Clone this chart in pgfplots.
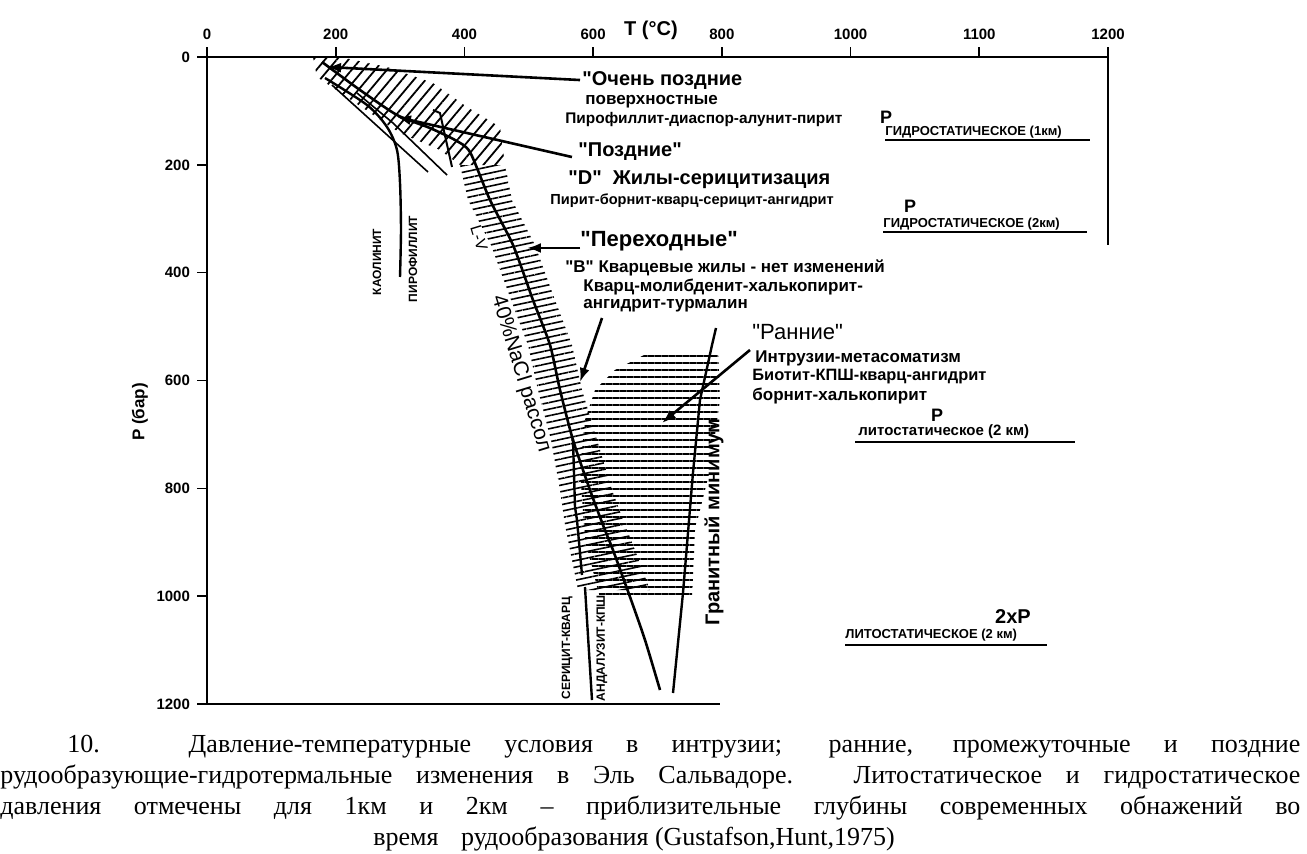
\documentclass[border=0pt]{standalone}
\usepackage{fontspec}
\setmainfont{Liberation Sans}[Ligatures=TeXOff]
\newfontfamily\capfont{Liberation Serif}
\usepackage{pgfplots}
\pgfplotsset{compat=1.18}
\usetikzlibrary{patterns.meta,arrows.meta}
\newcommand\fs[1]{\fontsize{#1}{#1}\selectfont}
\newcommand\q{"}
\begin{document}
\begin{tikzpicture}
\path[use as bounding box] (0,0) rectangle (653.5pt,426.5pt);
\begin{axis}[
  at={(103.5pt,398pt)}, anchor=north west,
  scale only axis, width=450.5pt, height=323.5pt,
  xmin=0, xmax=1400, ymin=0, ymax=1200,
  y dir=reverse,
  axis x line*=top, axis y line*=left,
  axis line style={-, line width=1.2pt},
  xtick={0,200,...,1400}, xticklabels={0,200,400,600,800,1000,1100,1200},
  ytick={0,200,...,1200},
  tick align=outside, major tick length=5pt,
  tick style={line width=0.8pt, black},
  ticklabel style={font=\bfseries\fs{7.5}},
  /pgf/number format/assume math mode=true,
  /pgf/number format/1000 sep={},
  clip=false,
]
% hatched zones
\addplot[draw=none, pattern={Lines[angle=50,distance=4.5pt,line width=0.9pt]}] coordinates {
 (164.7,0) (214.4,1.9) (279.7,18.5) (351.2,48.2) (404.0,92.7) (455.3,129.8) (463.0,200.3)
 (393.1,200.3) (362.0,172.5) (299.9,141.0) (170.9,37.1)} -- cycle;
\addplot[draw=none, pattern={Lines[angle=12,distance=3.2pt,line width=0.8pt]}] coordinates {
 (463.0,200.3) (473.9,265.2) (509.6,348.7) (540.7,450.7) (567.1,534.2) (582.7,617.6) (606.0,710.4)
 (629.3,803.1) (649.5,868.0) (665.0,914.4) (688.3,988.6)
 (576.5,988.6) (564.0,914.4) (556.3,868.0) (548.5,803.1) (534.5,710.4) (514.3,617.6)
 (498.8,534.2) (472.4,450.7) (441.3,348.7) (405.5,265.2) (393.1,200.3)} -- cycle;
\addplot[draw=none, pattern={Lines[angle=0,distance=3.5pt,line width=0.8pt]}] coordinates {
 (688.3,547.1) (794.0,543.4) (797.1,636.2) (781.6,766.0) (758.3,877.3) (753.6,1003.4)
 (610.6,1003.4) (587.3,895.8) (579.6,766.0) (587.3,673.3) (602.9,617.6) (633.9,580.5)} -- cycle;
% 40% NaCl curve
\addplot[line width=1.3pt, smooth, tension=0.4] coordinates {
 (178.7,9.3) (237.7,61.2) (295.2,107.6) (346.5,131.7) (385.3,153.9) (408.6,176.2) (439.7,265.2)
 (475.5,348.7) (506.5,450.7) (533.0,534.2) (548.5,617.6) (568.7,710.4) (595.1,803.1)
 (615.3,868.0) (630.8,914.4) (657.3,1001.5) (680.6,1081.3) (703.9,1174.0)};
% kaolinite / pyrophyllite boundary
\addplot[line width=1.2pt, smooth] coordinates {
 (183.3,38.9) (248.6,89.0) (279.7,129.8) (295.2,172.5) (299.9,233.7) (301.4,320.9) (299.9,408.0)};
% thin lines in late zone
\addplot[line width=0.8pt] coordinates {(194.2,51.9) (343.4,213.3)};
\addplot[line width=0.8pt] coordinates {(233.1,66.8) (289.0,122.4) (372.9,218.9)};
\addplot[line width=1pt] coordinates {(351.2,98.3) (362.0,103.9) (380.7,204.0)};
% sericite-quartz / andalusite-KSP boundary
\addplot[line width=1.2pt] coordinates {(566.0,710.4) (568.7,710.4) (571.8,834.6) (574.9,858.7) (582.7,960.7)};
\addplot[line width=1.2pt] coordinates {(587.3,983.0) (598.2,1192.6)};
% granite minimum
\addplot[line width=1.2pt] coordinates {
 (790.9,502.6) (784.7,534.2) (766.0,636.2) (755.1,771.6) (739.6,994.1) (724.1,1179.6)};
% partial frame lines
\addplot[line width=1.2pt] coordinates {(1400,0) (1400,349)};
\addplot[line width=1pt] coordinates {(0,1200) (797,1200)};
% arrows
\addplot[line width=1.3pt, -{Latex[length=7pt,width=5pt]}] coordinates {(579.6,42.7) (186.5,18.5)};
\addplot[line width=1.3pt, -{Latex[length=7pt,width=5pt]}] coordinates {(567.1,185.5) (295.2,111.3)};
\addplot[line width=1.3pt, -{Latex[length=7pt,width=5pt]}] coordinates {(579.6,354.2) (497.2,354.2)};
\addplot[line width=1.3pt, -{Latex[length=7pt,width=5pt]}] coordinates {(613.8,484.1) (579.6,602.8)};
\addplot[line width=1.3pt, -{Latex[length=7pt,width=5pt]}] coordinates {(843.7,543.4) (707.0,678.8)};
\end{axis}
\begin{scope}[x=0.5pt,y=-0.5pt,yshift=426.5pt]
% axis titles
\node[font=\bfseries\fs{10}] at (651,30) {T (°C)};
\node[font=\bfseries\fs{8.5}, rotate=90] at (140,412) {P (бар)};
% annotations
\node[anchor=west, inner sep=0, font=\bfseries\fs{10}] at (582,81) {\q Очень поздние};
\node[anchor=west, inner sep=0, font=\bfseries\fs{8.5}] at (585,102) {поверхностные};
\node[anchor=west, inner sep=0, font=\bfseries\fs{7.7}] at (565,120) {Пирофиллит-диаспор-алунит-пирит};
\node[anchor=west, inner sep=0, font=\bfseries\fs{10}] at (578,152) {\q Поздние\q};
\node[anchor=west, inner sep=0, font=\bfseries\fs{10}] at (568,180) {\q D\q\ \ Жилы-серицитизация};
\node[anchor=west, inner sep=0, font=\bfseries\fs{7.3}] at (550,201) {Пирит-борнит-кварц-серицит-ангидрит};
\node[anchor=west, inner sep=0, font=\bfseries\fs{11}] at (580,241) {\q Переходные\q};
\node[anchor=west, inner sep=0, font=\bfseries\fs{8.5}] at (565,268) {\q B\q\ Кварцевые жилы - нет изменений};
\node[anchor=west, inner sep=0, font=\bfseries\fs{8.5}] at (583,287) {Кварц-молибденит-халькопирит-};
\node[anchor=west, inner sep=0, font=\bfseries\fs{8.5}] at (583,306) {ангидрит-турмалин};
\node[anchor=west, inner sep=0, font=\fs{11}] at (752,332) {\q Ранние\q};
\node[anchor=west, inner sep=0, font=\bfseries\fs{8.5}] at (755,358) {Интрузии-метасоматизм};
\node[anchor=west, inner sep=0, font=\bfseries\fs{8.2}] at (752,377) {Биотит-КПШ-кварц-ангидрит};
\node[anchor=west, inner sep=0, font=\bfseries\fs{8.5}] at (752,396) {борнит-халькопирит};
% pressure labels
\node[font=\bfseries\fs{9}] at (886,117) {P};
\node[anchor=west, inner sep=0, font=\bfseries\fs{6.5}] at (885,132) {ГИДРОСТАТИЧЕСКОЕ (1км)};
\draw[line width=1pt] (885,140) -- (1090,140);
\node[font=\bfseries\fs{9}] at (910,206) {P};
\node[anchor=west, inner sep=0, font=\bfseries\fs{6.5}] at (883,224) {ГИДРОСТАТИЧЕСКОЕ (2км)};
\draw[line width=1pt] (883,232) -- (1087,232);
\node[font=\bfseries\fs{9}] at (937,415) {P};
\node[anchor=west, inner sep=0, font=\bfseries\fs{7.5}] at (858,432) {литостатическое (2 км)};
\draw[line width=1.4pt] (855,442) -- (1075,442);
\node[font=\bfseries\fs{10}] at (1013,617) {2xP};
\node[anchor=west, inner sep=0, font=\bfseries\fs{6.5}] at (845,635) {ЛИТОСТАТИЧЕСКОЕ (2 км)};
\draw[line width=1pt] (845,645) -- (1047,645);
% rotated labels
\node[rotate=90, font=\bfseries\fs{6}] at (377,262) {КАОЛИНИТ};
\node[rotate=90, font=\bfseries\fs{6}] at (413,259) {ПИРОФИЛЛИТ};
\node[rotate=90, font=\bfseries\fs{6}] at (567,648) {СЕРИЦИТ-КВАРЦ};
\node[rotate=90, font=\bfseries\fs{6}] at (602,648) {АНДАЛУЗИТ-КПШ};
\node[rotate=90, font=\bfseries\fs{10}] at (714,522) {Гранитный минимум};
\node[rotate=-73, font=\fs{10.5}, inner sep=0] at (521,374) {40\%NaCl рассол};
\node[rotate=-73, font=\fs{8}, inner sep=0] at (479,238) {L-V};
% caption
\node[anchor=base west, inner sep=0, font=\capfont\fs{13}] at (67,752) {\makebox[616.5pt][s]{10. Давление-температурные условия в интрузии; ранние, промежуточные и поздние}};
\node[anchor=base west, inner sep=0, font=\capfont\fs{13}] at (0,783) {\makebox[650pt][s]{рудообразующие-гидротермальные изменения в Эль Сальвадоре. Литостатическое и гидростатическое}};
\node[anchor=base west, inner sep=0, font=\capfont\fs{13}] at (0,814) {\makebox[650pt][s]{давления отмечены для 1км и 2км – приблизительные глубины современных обнажений во}};
\node[anchor=base west, inner sep=0, font=\capfont\fs{13}] at (373,845) {время\hspace{8pt} рудообразования (Gustafson,Hunt,1975)};
\end{scope}
\end{tikzpicture}
\end{document}
